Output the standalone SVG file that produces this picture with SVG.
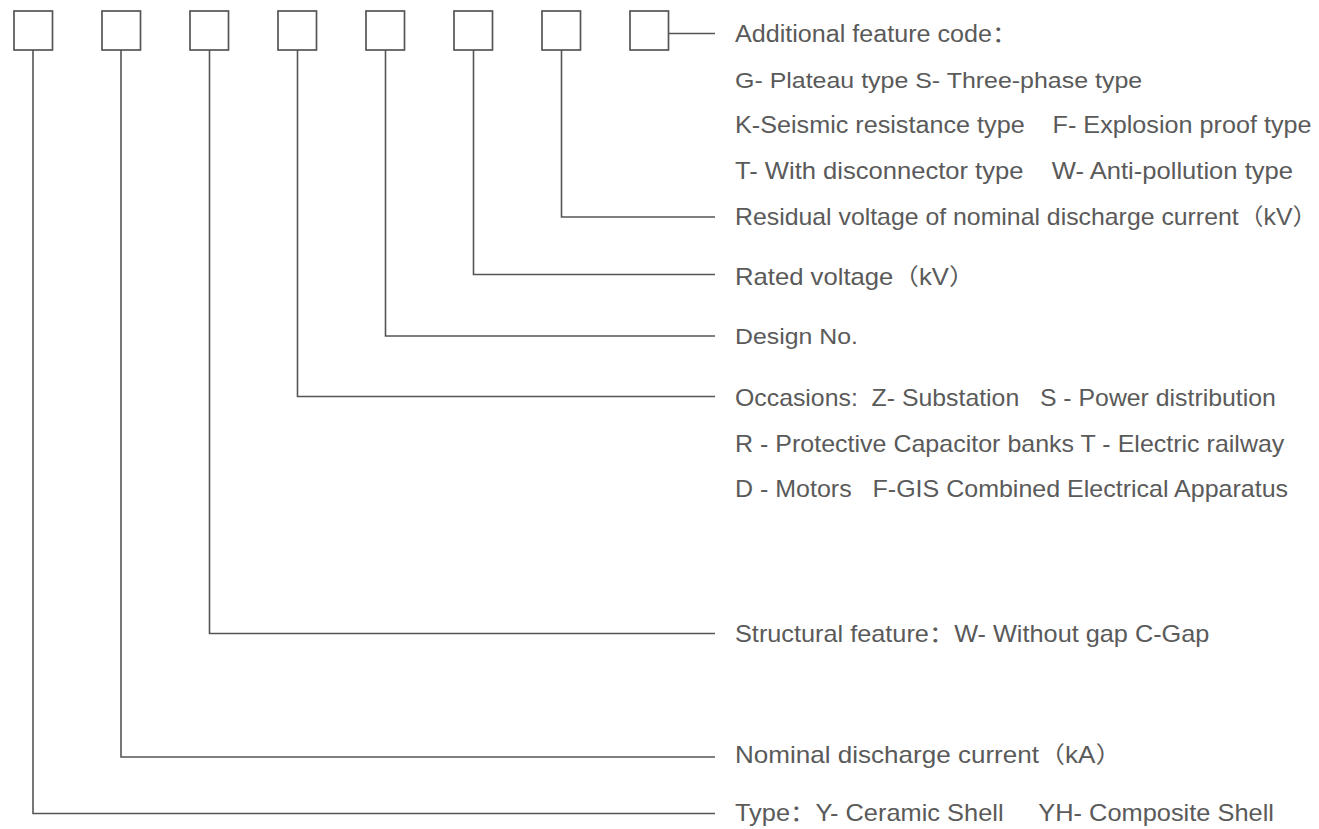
<svg xmlns="http://www.w3.org/2000/svg" width="1319" height="829" viewBox="0 0 1319 829">
<style>
.box{fill:#fff;stroke:#555;stroke-width:1.7}
.ln{fill:none;stroke:#555;stroke-width:1.6}
.t{font-family:"Liberation Sans","Noto Sans CJK SC",sans-serif;font-size:23px;fill:#5a5a5a;white-space:pre}
</style>
<rect width="1319" height="829" fill="#fff"/>
<g id="connectors">
<path class="ln" d="M33 50V813.5H715"/>
<path class="ln" d="M121 50V757H715"/>
<path class="ln" d="M209.5 50V633.5H715"/>
<path class="ln" d="M297.5 50V396.5H715"/>
<path class="ln" d="M385.5 50V336H715"/>
<path class="ln" d="M473.5 50V274.5H715"/>
<path class="ln" d="M561.5 50V217H715"/>
<path class="ln" d="M669 33.5H715"/>
</g>
<g id="box1"><rect class="box" x="14" y="11" width="38.5" height="39"/></g>
<g id="box2"><rect class="box" x="102" y="11" width="38.5" height="39"/></g>
<g id="box3"><rect class="box" x="190" y="11" width="38.5" height="39"/></g>
<g id="box4"><rect class="box" x="278" y="11" width="38.5" height="39"/></g>
<g id="box5"><rect class="box" x="366" y="11" width="38.5" height="39"/></g>
<g id="box6"><rect class="box" x="454" y="11" width="38.5" height="39"/></g>
<g id="box7"><rect class="box" x="542" y="11" width="38.5" height="39"/></g>
<g id="box8"><rect class="box" x="630" y="11" width="38.5" height="39"/></g>
<g id="labels">
<text class="t" transform="translate(735,41.5) scale(1.093,1)">Additional feature code：</text>
<text class="t" transform="translate(735,87.5) scale(1.085,1)">G- Plateau type S- Three-phase type</text>
<text class="t" transform="translate(735,133) scale(1.095,1)">K-Seismic resistance type    F- Explosion proof type</text>
<text class="t" transform="translate(735,178.5) scale(1.112,1)">T- With disconnector type    W- Anti-pollution type</text>
<text class="t" transform="translate(735,224.5) scale(1.08,1)">Residual voltage of nominal discharge current（kV）</text>
<text class="t" transform="translate(735,285) scale(1.116,1)">Rated voltage（kV）</text>
<text class="t" transform="translate(735,344) scale(1.081,1)">Design No.</text>
<text class="t" transform="translate(735,406) scale(1.08,1)">Occasions:  Z- Substation   S - Power distribution</text>
<text class="t" transform="translate(735,451.5) scale(1.088,1)">R - Protective Capacitor banks T - Electric railway</text>
<text class="t" transform="translate(735,497) scale(1.088,1)">D - Motors   F-GIS Combined Electrical Apparatus</text>
<text class="t" transform="translate(735,641.5) scale(1.1,1)">Structural feature：W- Without gap C-Gap</text>
<text class="t" transform="translate(735,763) scale(1.133,1)">Nominal discharge current（kA）</text>
<text class="t" transform="translate(735,821) scale(1.104,1)">Type：Y- Ceramic Shell     YH- Composite Shell</text>
</g>
</svg>
